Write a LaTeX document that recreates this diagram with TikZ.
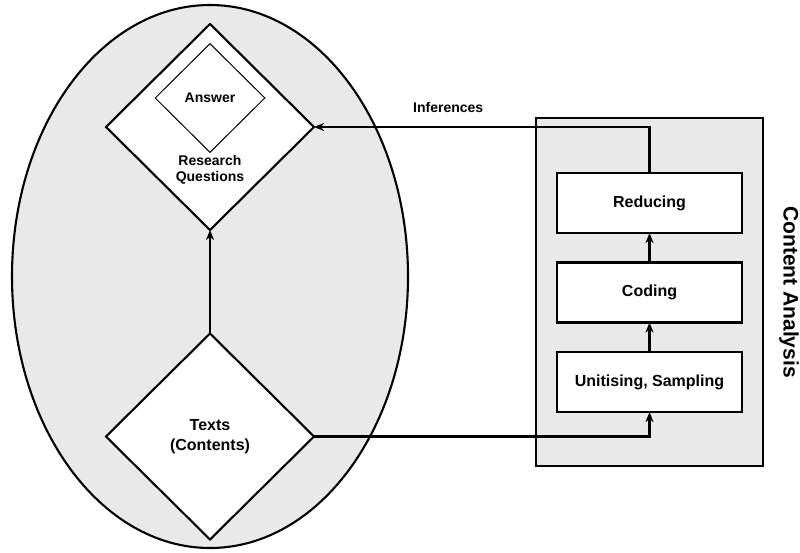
\documentclass[tikz,border=0pt]{standalone}
\usepackage{fontspec}
\setmainfont{Liberation Sans}
\usetikzlibrary{shapes.geometric,arrows.meta}
\definecolor{lightfill}{HTML}{E9E9E9}
\begin{document}
\begin{tikzpicture}[x=1pt,y=-1pt,line width=2.1pt,
	>={Stealth[length=10pt,width=8pt,inset=3pt]},
	every node/.style={font=\bfseries\fontsize{16}{19}\selectfont,align=center},
	smalltext/.style={font=\bfseries\fontsize{14}{17}\selectfont},
	bigdiamond/.style={diamond,draw,fill=white,minimum width=208pt,minimum height=206pt,inner sep=0pt,outer sep=0pt},
	stepbox/.style={rectangle,draw,fill=white,minimum width=185pt,minimum height=60pt,outer sep=0pt}]
	\useasboundingbox (0,0) rectangle (800,552);
	% linke Seite
	\node[ellipse,draw,fill=lightfill,minimum width=396pt,minimum height=543pt] (frame) at (210,276.5) {};
	\node[bigdiamond] (rq) at (210,127) {};
	\node[diamond,draw,line width=1pt,fill=white,minimum width=110pt,minimum height=109pt,inner sep=0pt,smalltext] (ans) at (210,98) {Answer};
	\node[smalltext] (rqtext) at (210,170) {Research\\[-1pt]Questions};
	\node[bigdiamond] (texts) at (210,436.5) {Texts\\[1pt](Contents)};
	% rechte Seite
	\node[rectangle,draw,fill=lightfill,minimum width=227pt,minimum height=348pt,outer sep=0pt] (panel) at (649.5,292) {};
	\node[stepbox] (reducing) at (649.5,203) {Reducing};
	\node[stepbox] (coding) at (649.5,292.5) {Coding};
	\node[stepbox] (unitising) at (649.5,382) {Unitising, Sampling};
	\node[rotate=-90,font=\bfseries\fontsize{21}{25}\selectfont] (catitle) at (789,292) {Content Analysis};
	% Pfeile
	\draw[->] (texts.north) -- (rq.south);
	\draw[->] (texts.east) -| (unitising.south);
	\draw[->] (unitising.north) -- (coding.south);
	\draw[->] (coding.north) -- (reducing.south);
	\draw[->] (reducing.north) |- (rq.east) node[smalltext,pos=0.8,above=10pt] (inf) {Inferences};
\end{tikzpicture}
\end{document}
